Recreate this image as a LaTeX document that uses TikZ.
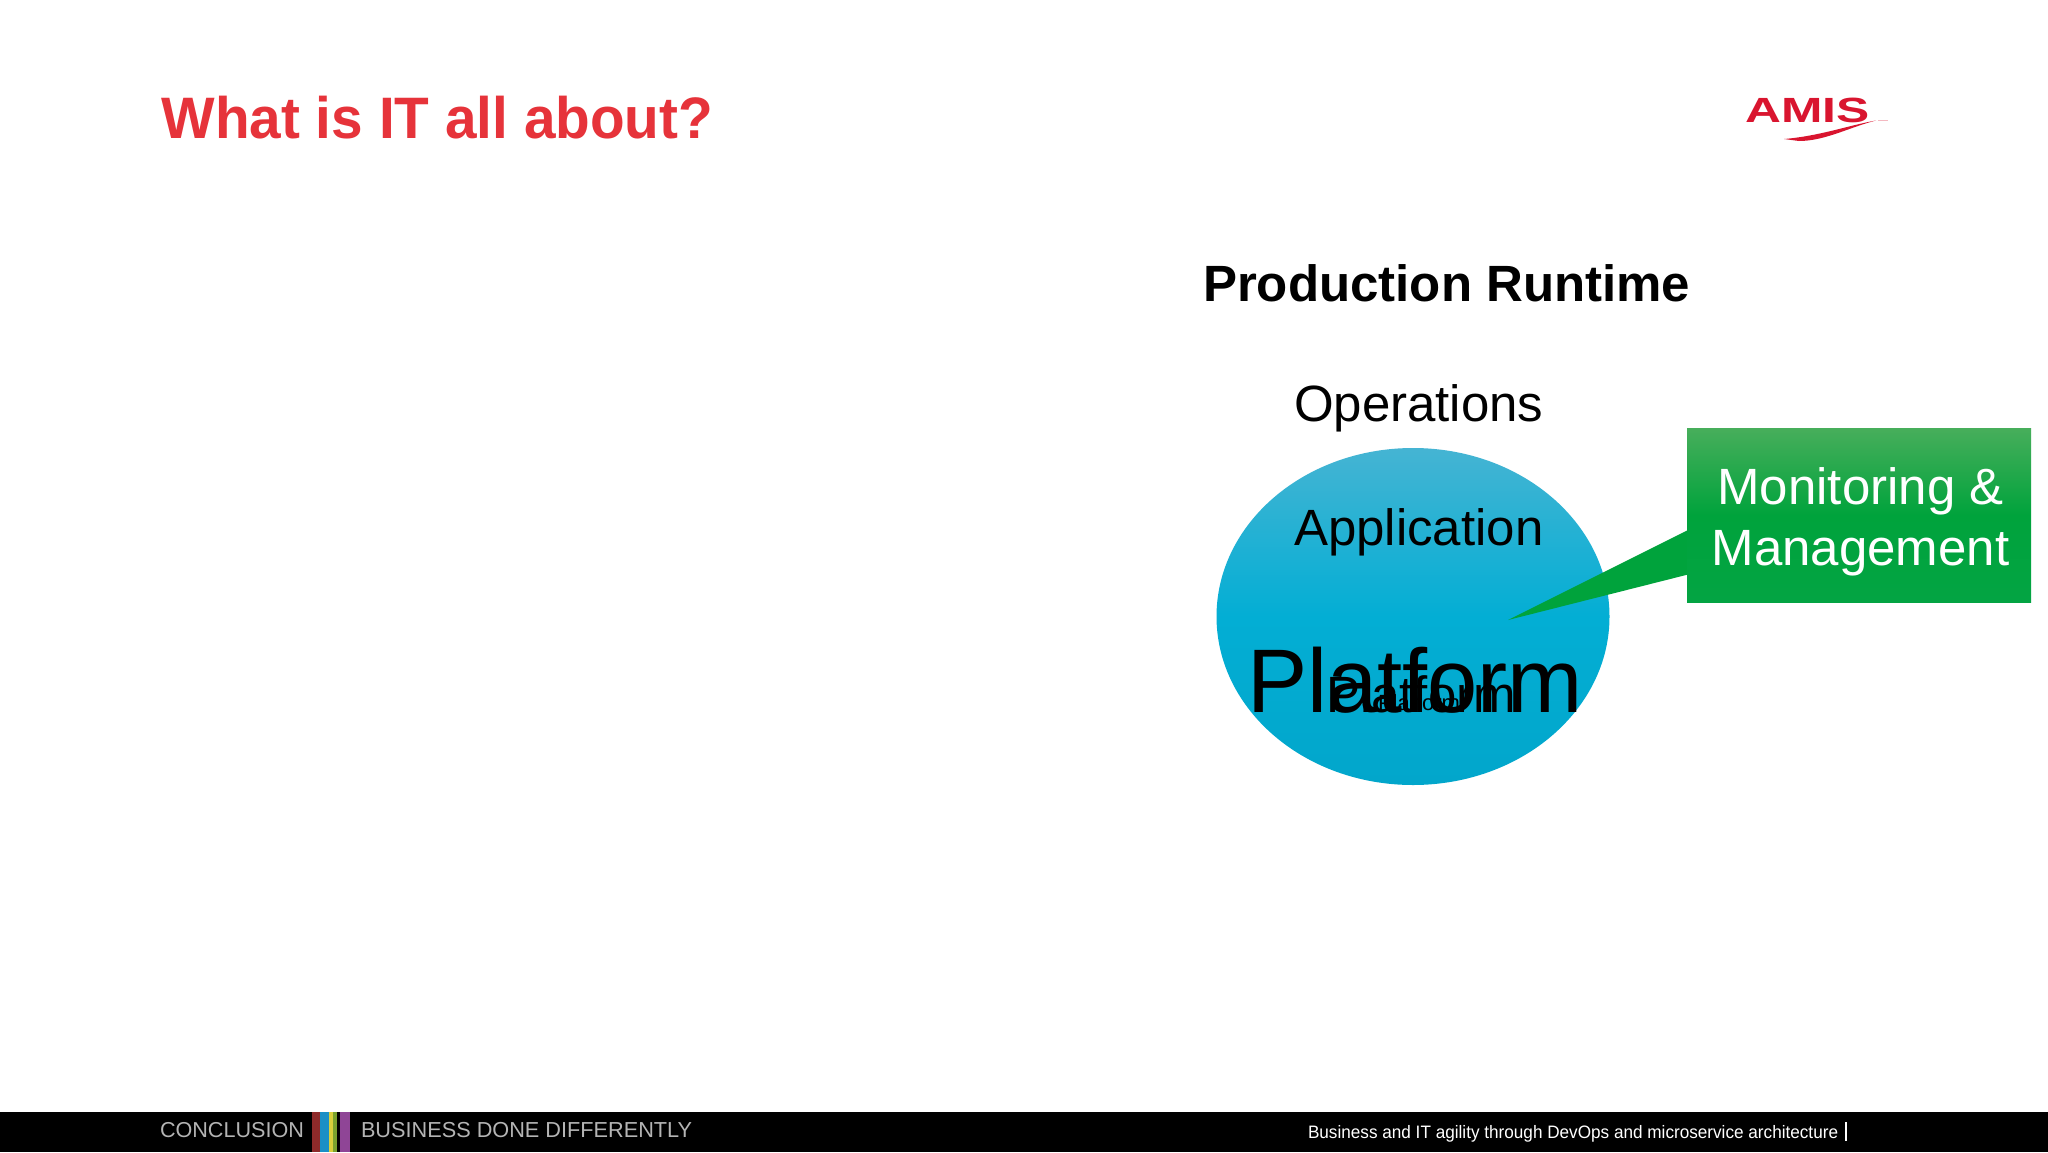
\documentclass[tikz,border=0pt]{standalone}
\usepackage{fontspec}
\setmainfont{Liberation Sans}
\usetikzlibrary{shapes.geometric}
\definecolor{titlered}{HTML}{E6333A}
\definecolor{logored}{HTML}{D9152F}
\definecolor{ballTop}{HTML}{45B4D3}
\definecolor{ballMid}{HTML}{03AED4}
\definecolor{ballBot}{HTML}{02A6CB}
\definecolor{boxTop}{HTML}{47AE5B}
\definecolor{boxMid}{HTML}{00A33C}
\definecolor{boxBot}{HTML}{03A443}
\definecolor{footgrey}{HTML}{B4B4B4}
\definecolor{stA}{HTML}{8E2A2A}
\definecolor{stB}{HTML}{1B8FC6}
\definecolor{stC}{HTML}{D8CF3C}
\definecolor{stD}{HTML}{7AA32E}
\definecolor{stE}{HTML}{8F4596}
\newcommand{\fs}[1]{\fontsize{#1}{#1}\selectfont}
\tikzset{
  txt/.style={anchor=base west,inner sep=0pt,outer sep=0pt,text=black},
  stripe/.style={anchor=north west,inner sep=0pt,outer sep=0pt,minimum height=40pt},
  foot/.style={anchor=base west,inner sep=0pt,outer sep=0pt,text=footgrey}
}
\begin{document}
\begin{tikzpicture}[x=1pt,y=-1pt]
\useasboundingbox (0,0) rectangle (2048,1152);
\fill[white] (0,0) rectangle (2048,1152);
\fill[black] (0,1112) rectangle (2048,1152);

\node[txt,text=titlered,xscale=.97] (title) at (161.5,138) {\fs{58.5}\bfseries What is IT all about?};

\node[anchor=center,ellipse,inner sep=0pt,minimum width=393pt,minimum height=337pt,
  top color=ballTop,bottom color=ballBot,middle color=ballMid] (ball) at (1413,616.5) {};

\node[txt] (heading) at (1203,301.5) {\fs{51}\bfseries Production Runtime};
\node[txt] (ops) at (1294,421.5) {\fs{51}Operations};
\node[txt] (app) at (1294,545.5) {\fs{51}Application};
\node[txt] (plat3) at (1247,712) {\fs{90.3}Platform};
\node[txt] (plat2) at (1326,712) {\fs{51}Platform};
\node[txt] (plat1) at (1378,710) {\fs{22}Platform};

\coordinate (tip) at (1508,620);
\coordinate (baseA) at (1690,529);
\coordinate (baseB) at (1690,574);
\fill[boxMid] (tip) -- (baseA) -- (baseB) -- cycle;
\node[anchor=north west,inner sep=0pt,minimum width=344pt,minimum height=174pt,
  top color=boxTop,bottom color=boxBot,middle color=boxMid] (mon) at (1687,428) {};
\node[inner sep=0pt,text=white,align=center,font=\fontsize{51}{61}\selectfont]
  (monlabel) at (1860.5,521.5) {Monitoring \&\\Management};

% logo
\node[anchor=base west,inner sep=0pt,text=logored,xscale=1.42] (logo) at (1745,122) {\fs{35}\bfseries AMIS};
\fill[logored] (1784,139) .. controls (1820,136) and (1850,125) .. (1876,120.5)
  .. controls (1850,127) and (1825,141) .. (1799,141) -- cycle;
\fill[logored!30] (1878,119.5) rectangle (1888,121);

% footer
\node[foot] (concl) at (160,1137) {\fs{21.6}CONCLUSION};
\node[stripe,fill=stA,minimum width=8pt] (s1) at (312,1112) {};
\node[stripe,fill=stB,minimum width=9pt] (s2) at (320,1112) {};
\node[stripe,fill=stC,minimum width=4pt] (s3) at (329,1112) {};
\node[stripe,fill=stD,minimum width=4pt] (s4) at (333,1112) {};
\node[stripe,fill=stE,minimum width=10pt] (s5) at (340,1112) {};
\node[foot] (slogan) at (361,1137) {\fs{21.7}BUSINESS DONE DIFFERENTLY};
\node[txt,text=white,xscale=.953] (subject) at (1308,1138) {\fs{18}Business and IT agility through DevOps and microservice architecture};
\node[anchor=north west,inner sep=0pt,fill=white,minimum width=1.5pt,minimum height=19pt] (bar) at (1845,1122) {};
\end{tikzpicture}
\end{document}
